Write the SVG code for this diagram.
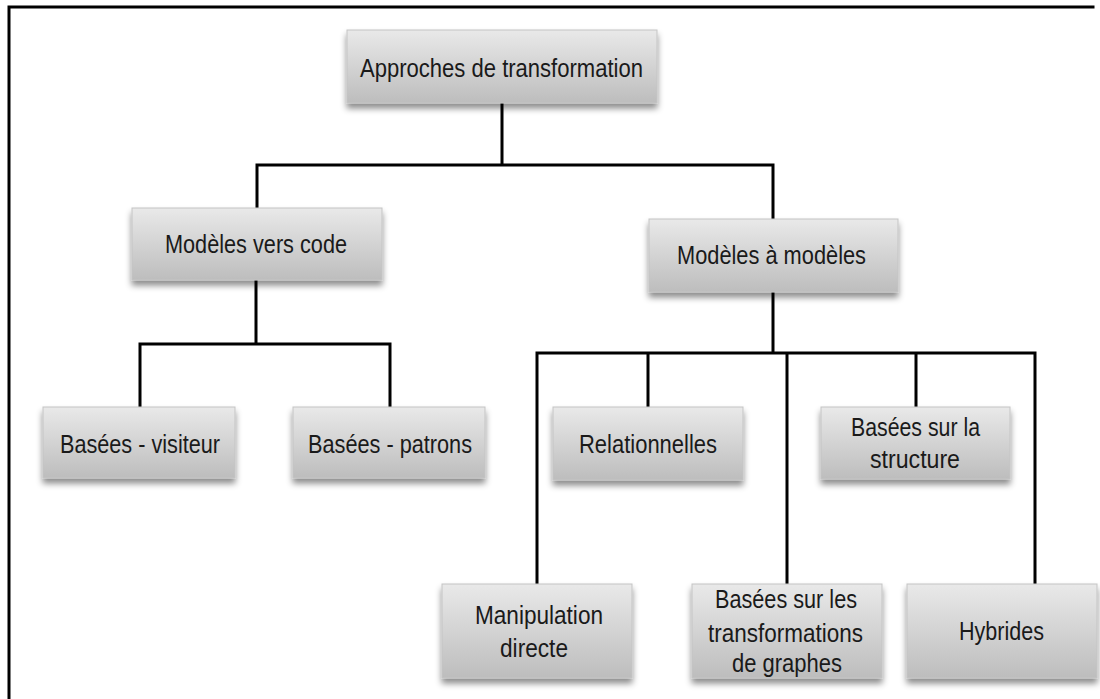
<svg xmlns="http://www.w3.org/2000/svg" width="1100" height="699" viewBox="0 0 1100 699">
  <style>
    .box { fill: url(#g); stroke: #c4c4c4; stroke-width: 1; filter: url(#sh); }
    .t { font-family: "Liberation Sans", Arial, sans-serif; font-size: 25px; fill: #1a1a1a; text-anchor: middle; }
    .ln { stroke: #000; stroke-width: 3; fill: none; stroke-linecap: square; }
  </style>
  <defs>
    <linearGradient id="g" x1="0" y1="0" x2="0" y2="1">
      <stop offset="0" stop-color="#e9e9e9"/>
      <stop offset="1" stop-color="#bdbdbd"/>
    </linearGradient>
    <filter id="sh" x="-10%" y="-10%" width="120%" height="140%">
      <feDropShadow dx="0" dy="5" stdDeviation="3" flood-color="#000" flood-opacity="0.45"/>
    </filter>
  </defs>
  <rect x="0" y="0" width="1100" height="699" fill="#fff"/>
  <g id="frame">
    <path class="ln" d="M9,699 V7 H1093"/>
  </g>
  <g id="connectors">
    <path class="ln" d="M502,103 V165 M257,165 H773 M257,165 V208 M773,165 V219"/>
    <path class="ln" d="M256,280 V344 M140,344 H390 M140,344 V407 M390,344 V407"/>
    <path class="ln" d="M773,292 V353 M537,353 H1035 M537,353 V584 M648,353 V407 M787,353 V584 M916,353 V407 M1035,353 V584"/>
  </g>
  <g id="n-approches">
    <rect class="box" x="347" y="30" width="310" height="73"/>
    <text class="t" x="501.5" y="77" font-size="26" textLength="283" lengthAdjust="spacingAndGlyphs">Approches de transformation</text>
  </g>
  <g id="n-modeles-code">
    <rect class="box" x="132" y="208" width="250" height="72"/>
    <text class="t" x="256" y="253" textLength="182" lengthAdjust="spacingAndGlyphs">Modèles vers code</text>
  </g>
  <g id="n-modeles-modeles">
    <rect class="box" x="649" y="219" width="249" height="73"/>
    <text class="t" x="771.5" y="264" textLength="189" lengthAdjust="spacingAndGlyphs">Modèles à modèles</text>
  </g>
  <g id="n-visiteur">
    <rect class="box" x="43" y="407" width="192" height="71"/>
    <text class="t" x="140" y="453" textLength="160" lengthAdjust="spacingAndGlyphs">Basées - visiteur</text>
  </g>
  <g id="n-patrons">
    <rect class="box" x="293" y="407" width="192" height="71"/>
    <text class="t" x="390" y="453" textLength="164" lengthAdjust="spacingAndGlyphs">Basées - patrons</text>
  </g>
  <g id="n-relationnelles">
    <rect class="box" x="553" y="407" width="190" height="73"/>
    <text class="t" x="648" y="453" textLength="138" lengthAdjust="spacingAndGlyphs">Relationnelles</text>
  </g>
  <g id="n-structure">
    <rect class="box" x="821" y="407" width="189" height="72"/>
    <text class="t" x="915.5" y="436" textLength="129" lengthAdjust="spacingAndGlyphs">Basées sur la</text>
    <text class="t" x="915" y="468" textLength="90" lengthAdjust="spacingAndGlyphs">structure</text>
  </g>
  <g id="n-manipulation">
    <rect class="box" x="442" y="584" width="190" height="94"/>
    <text class="t" x="539" y="624" textLength="128" lengthAdjust="spacingAndGlyphs">Manipulation</text>
    <text class="t" x="534" y="657" textLength="68" lengthAdjust="spacingAndGlyphs">directe</text>
  </g>
  <g id="n-graphes">
    <rect class="box" x="692" y="584" width="190" height="94"/>
    <text class="t" x="786" y="608" textLength="142" lengthAdjust="spacingAndGlyphs">Basées sur les</text>
    <text class="t" x="785.5" y="642" textLength="155" lengthAdjust="spacingAndGlyphs">transformations</text>
    <text class="t" x="787" y="672" textLength="110" lengthAdjust="spacingAndGlyphs">de graphes</text>
  </g>
  <g id="n-hybrides">
    <rect class="box" x="907" y="584" width="190" height="94"/>
    <text class="t" x="1001.5" y="640" textLength="85" lengthAdjust="spacingAndGlyphs">Hybrides</text>
  </g>
</svg>
